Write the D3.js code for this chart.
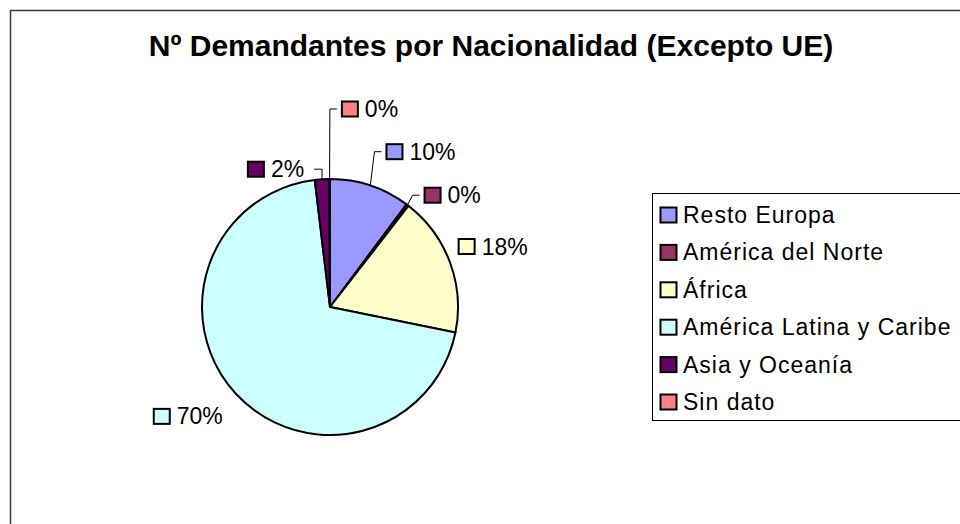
<!DOCTYPE html>
<html lang="es">
<head>
<meta charset="UTF-8">
<title>Nº Demandantes por Nacionalidad (Excepto UE)</title>
<script src="https://d3js.org/d3.v7.min.js"></script>
<style>
    body { margin: 0; background: #fff; }
    svg text { font-family: "Liberation Sans", Arial, sans-serif; fill: #000; }
    .title { font-size: 30px; font-weight: bold; }
    .lbl { font-size: 23px; }
    .leg { font-size: 23px; letter-spacing: 1px; }
    .slice { stroke: #000; stroke-width: 2px; stroke-linejoin: round; }
    .swatch { stroke: #000; stroke-width: 2px; }
    .leader { fill: none; stroke: #000; stroke-width: 1px; }
</style>
</head>
<body>
<svg width="960" height="524"></svg>
<script>
    const categories = ["Resto Europa", "América del Norte", "África",
        "América Latina y Caribe", "Asia y Oceanía", "Sin dato"];
    const shares = [10.2, 0.3, 17.7, 69.9, 1.8, 0.1];
    const colors = ["#9999FF", "#993366", "#FFFFCC", "#CCFFFF", "#660066", "#FF8080"];

    // labels that Excel pushed away from their slice (angle in degrees, radius in px)
    const labelMoves = {
        "Resto Europa": {da: 12, dr: 6, leader: true},
        "América del Norte": {da: 10.4, dr: -8, leader: true},
        "América Latina y Caribe": {da: 5, dr: 5, leader: false},
        "Asia y Oceanía": {da: -17.8, dr: -26, leader: true},
        "Sin dato": {da: 11.6, dr: 28, leader: true}
    };

    const svg = d3.select("svg"),
        width = +svg.attr("width"),
        height = +svg.attr("height");

    const cx = 330, cy = 307, r = 128, labelR = r + 46;

    // chart frame (runs off the right and bottom edge like the source)
    svg.append("rect")
        .attr("x", 10.5).attr("y", 10.5)
        .attr("width", 1000).attr("height", 600)
        .attr("fill", "none")
        .attr("stroke", "#3a3a3a")
        .attr("stroke-width", 1.5);

    svg.append("text")
        .attr("class", "title")
        .attr("x", 491).attr("y", 56)
        .attr("text-anchor", "middle")
        .text("Nº Demandantes por Nacionalidad (Excepto UE)");

    const data = categories.map((c, i) => ({name: c, value: shares[i], color: colors[i]}));

    const pie = d3.pie().sort(null).value(d => d.value);
    const arcs = pie(data);
    const arc = d3.arc().innerRadius(0).outerRadius(r);

    const g = svg.append("g").attr("transform", `translate(${cx},${cy})`);

    g.selectAll("path")
        .data(arcs)
        .enter().append("path")
        .attr("class", "slice")
        .attr("d", arc)
        .attr("fill", d => d.data.color);

    const pct = d3.format(".0%");
    const total = d3.sum(shares);

    function polar(angle, rad) {
        return [rad * Math.sin(angle), -rad * Math.cos(angle)];
    }

    // data labels
    arcs.forEach(d => {
        const mid = (d.startAngle + d.endAngle) / 2;
        const mv = labelMoves[d.data.name];
        const a = mid + (mv ? mv.da * Math.PI / 180 : 0);
        const rr = labelR + (mv ? mv.dr : 0);
        const [lx, ly] = polar(a, rr);

        const lab = g.append("g");
        const t = lab.append("text")
            .attr("class", "lbl")
            .text(pct(d.data.value / total));
        const tw = t.node().getComputedTextLength();
        const sw = 16, gap = 7;
        const w = sw + gap + tw;
        const left = lx - w / 2;

        lab.append("rect")
            .attr("class", "swatch")
            .attr("x", left).attr("y", ly - 7.5)
            .attr("width", sw).attr("height", 15)
            .attr("fill", d.data.color);
        t.attr("x", left + sw + gap).attr("y", ly + 8);

        if (mv && mv.leader) {
            const [ex, ey] = polar(mid, r);
            let pts;
            if (lx > ex) {
                pts = [[ex, ey], [left - 12, ly], [left - 5, ly]];
            } else {
                const right = left + w;
                pts = [[ex, ey], [right + 18, ly], [right + 10, ly]];
            }
            g.append("path")
                .attr("class", "leader")
                .attr("d", d3.line()(pts));
        }
    });

    // legend
    const legX = 652.5, legY = 193.5, rowH = 37.4;
    svg.append("rect")
        .attr("x", legX).attr("y", legY)
        .attr("width", 400).attr("height", 227)
        .attr("fill", "#fff")
        .attr("stroke", "#000")
        .attr("stroke-width", 1);

    const leg = svg.append("g")
        .selectAll("g")
        .data(data)
        .enter().append("g")
        .attr("transform", (d, i) => `translate(${legX + 8},${legY + 21.5 + i * rowH})`);

    leg.append("rect")
        .attr("class", "swatch")
        .attr("x", 0).attr("y", -7.5)
        .attr("width", 16).attr("height", 15)
        .attr("fill", d => d.color);

    leg.append("text")
        .attr("class", "leg")
        .attr("x", 22.5).attr("y", 8)
        .text(d => d.name);
</script>
</body>
</html>
